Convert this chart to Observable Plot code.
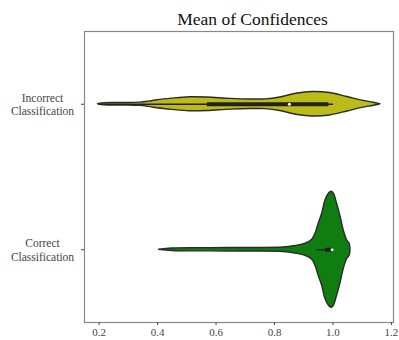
<!DOCTYPE html>
<html><head><meta charset="utf-8">
<script src="https://cdn.jsdelivr.net/npm/d3@7"></script>
<script src="https://cdn.jsdelivr.net/npm/@observablehq/plot@0.6"></script>
<style>body{margin:0;background:#fff}</style>
</head><body><div id="chart"></div>
<script>
// Categories (y positions 1 and 0)
const categories = ["Incorrect\nClassification", "Correct\nClassification"];
const categoryPos = [1, 0];
const xTicks = [0.2, 0.4, 0.6, 0.8, 1.0, 1.2];

// Violin outline: value vs. density (half-width, relative units)
const incorrectValues  = [0.196, 0.22, 0.28, 0.34, 0.37, 0.40, 0.45, 0.51, 0.57, 0.65, 0.72, 0.77, 0.82, 0.88, 0.93, 0.99, 1.05, 1.10, 1.14, 1.162];
const incorrectDensity = [0, 1.0, 1.2, 1.6, 2.6, 4.0, 5.6, 7.0, 6.8, 5.4, 4.8, 4.9, 6.8, 10.8, 12.2, 11.2, 7.2, 3.6, 1.5, 0];

const correctValues  = [0.405, 0.45, 0.58, 0.72, 0.83, 0.872, 0.906, 0.929, 0.940, 0.951, 0.963, 0.974, 0.986, 0.995, 1.003, 1.014, 1.026, 1.037, 1.049, 1.057, 1.060];
const correctDensity = [0, 1.3, 1.6, 1.8, 2.2, 3.8, 6, 10, 16, 26, 36, 49, 56, 58, 56, 46, 33, 19, 9, 6, 0];

// Box summaries: [whiskerLow, q1, median, q3, whiskerHigh]
const incorrectBox = [0.2, 0.570, 0.851, 0.986, 1.002];
const correctBox   = [0.945, 0.975, 0.997, 1.0, 1.0];

const densityToY = 1 / 145.5;

function profile(values, dens, center) {
  return values.map((v, i) => ({value: v, y1: center - dens[i] * densityToY, y2: center + dens[i] * densityToY}));
}
const incorrectRows = profile(incorrectValues, incorrectDensity, categoryPos[0]);
const correctRows = profile(correctValues, correctDensity, categoryPos[1]);
const boxes = [
  {y: categoryPos[0], lo: incorrectBox[0], q1: incorrectBox[1], med: incorrectBox[2], q3: incorrectBox[3], hi: incorrectBox[4]},
  {y: categoryPos[1], lo: correctBox[0], q1: correctBox[1], med: correctBox[2], q3: correctBox[3], hi: correctBox[4]}
];
const labelOf = new Map(categoryPos.map((p, i) => [p, categories[i]]));

const chart = Plot.plot({
  width: 399, height: 340,
  marginTop: 31, marginBottom: 18, marginLeft: 84, marginRight: 6,
  style: {fontFamily: "'Liberation Serif', 'Times New Roman', serif", background: "#fff", color: "#333"},
  x: {domain: [0.15, 1.207]},
  y: {domain: [-0.5, 1.5]},
  marks: [
    Plot.frame({stroke: "#888", strokeWidth: 1.2}),
    Plot.areaY(incorrectRows, {x: "value", y1: "y1", y2: "y2", curve: "catmull-rom", fill: "#bcbc18", stroke: "#2b2b2b", strokeWidth: 1.4}),
    Plot.areaY(correctRows, {x: "value", y1: "y1", y2: "y2", curve: "catmull-rom", fill: "#0f7d0f", stroke: "#2b2b2b", strokeWidth: 1.4}),
    Plot.ruleY(boxes, {y: "y", x1: "lo", x2: "hi", stroke: "#222", strokeWidth: 1.3}),
    Plot.ruleY(boxes, {y: "y", x1: "q1", x2: "q3", stroke: "#222", strokeWidth: 4}),
    Plot.dot(boxes, {x: "med", y: "y", r: 1.5, fill: "#fff", stroke: null}),
    Plot.axisX({ticks: xTicks, tickFormat: d3.format(".1f"), tickSize: 3, tickPadding: 3, fontSize: 11, color: "#444", label: null}),
    Plot.axisY({ticks: categoryPos, tickFormat: d => labelOf.get(d), textAnchor: "middle", tickSize: 3, tickPadding: 39, fontSize: 11.5, lineHeight: 1.15, color: "#444", label: null}),
    Plot.text(["Mean of Confidences"], {frameAnchor: "top", dy: -19, dx: 13.5, fontSize: 17.5, fill: "#111"})
  ]
});
document.getElementById("chart").append(chart);
</script>
</body></html>
